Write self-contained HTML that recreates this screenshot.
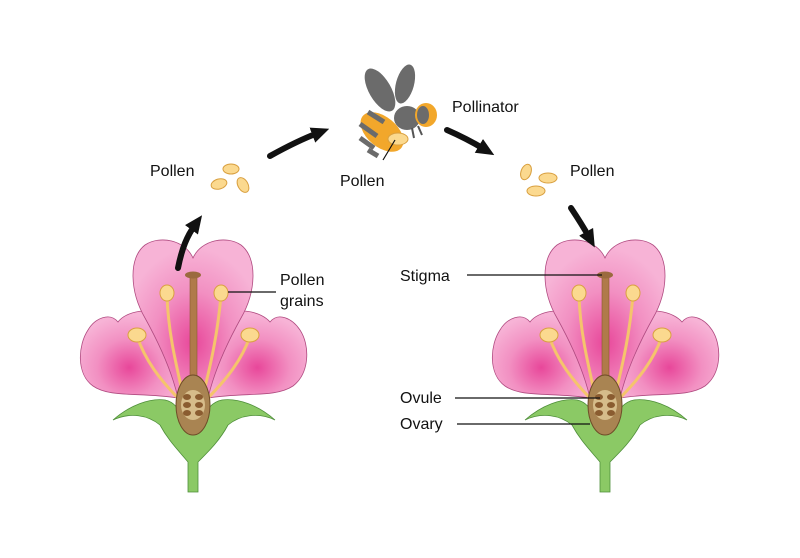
<!DOCTYPE html>
<html><head><meta charset="utf-8"><style>
html,body{margin:0;padding:0;background:#fff;}
svg{display:block;font-family:"Liberation Sans",sans-serif;}
</style></head><body>
<svg width="800" height="558" viewBox="0 0 800 558" xmlns="http://www.w3.org/2000/svg">
<defs>
<radialGradient id="pk" cx="0.5" cy="0.65" r="0.6">
<stop offset="0" stop-color="#e8479a"/><stop offset="0.55" stop-color="#f290c2"/><stop offset="1" stop-color="#f7b3d6"/>
</radialGradient>
<marker id="ah" markerWidth="18" markerHeight="18" refX="6" refY="9" orient="auto" markerUnits="userSpaceOnUse">
<path d="M0,1 L18,9 L0,17 Z" fill="#111"/></marker>
<g id="flower">
<path d="M178,398 C140,392 110,398 93,386 C76,374 78,345 88,330 C95,318 110,312 118,322 C125,312 150,305 170,318 Z" fill="url(#pk)" stroke="#b04a80" stroke-width="0.8"/>
<path d="M208,398 C245,392 275,398 293,386 C310,373 310,345 300,330 C292,318 278,312 270,322 C262,312 237,305 215,318 Z" fill="url(#pk)" stroke="#b04a80" stroke-width="0.8"/>
<path d="M193,258 C185,240 160,235 145,245 C128,258 130,292 145,318 C160,345 172,372 178,398 L208,398 C214,372 226,345 241,318 C256,292 258,258 241,245 C226,235 201,240 193,258 Z" fill="url(#pk)" stroke="#b04a80" stroke-width="0.8"/>
<path d="M188,492 L188,462 C178,450 168,440 160,425 C148,415 130,412 113,420 C130,405 150,398 165,400 C175,402 180,410 183,420 C186,432 200,432 203,420 C206,410 212,402 222,400 C238,398 258,405 275,420 C258,412 240,415 228,425 C220,440 210,450 198,462 L198,492 Z" fill="#8bc965" stroke="#4f8f3a" stroke-width="0.8"/>
<g stroke="#f5c46c" stroke-width="3" fill="none" stroke-linecap="round">
<path d="M183,395 C175,360 168,330 167,295"/>
<path d="M203,395 C212,360 218,330 221,295"/>
<path d="M180,400 C160,380 145,360 137,336"/>
<path d="M206,400 C226,380 242,360 250,336"/>
</g>
<g fill="#fbd98f" stroke="#d9a040" stroke-width="1">
<ellipse cx="167" cy="293" rx="7" ry="8"/><ellipse cx="221" cy="293" rx="7" ry="8"/>
<ellipse cx="137" cy="335" rx="9" ry="7"/><ellipse cx="250" cy="335" rx="9" ry="7"/>
</g>
<rect x="190" y="275" width="7" height="110" fill="#b07a4a" stroke="#8a5a30" stroke-width="0.6"/>
<ellipse cx="193" cy="275" rx="8" ry="3.5" fill="#9b6a3e"/>
<ellipse cx="193" cy="405" rx="17" ry="30" fill="#a98452" stroke="#6e4c28" stroke-width="1"/>
<ellipse cx="193" cy="405" rx="12" ry="15" fill="#d6bc8a"/>
<g fill="#8a5c30"><ellipse cx="187" cy="397" rx="4" ry="3"/><ellipse cx="199" cy="397" rx="4" ry="3"/><ellipse cx="187" cy="405" rx="4" ry="3"/><ellipse cx="199" cy="405" rx="4" ry="3"/><ellipse cx="187" cy="413" rx="4" ry="3"/><ellipse cx="199" cy="413" rx="4" ry="3"/></g>
</g>
</defs>
<use href="#flower"/>
<use href="#flower" transform="translate(412,0)"/>
<g stroke="#111" stroke-width="6" fill="none" stroke-linecap="round">
<path d="M178,268 C182,248 187,236 195,225" marker-end="url(#ah)"/>
<path d="M270,156 C288,146 302,139 318,133" marker-end="url(#ah)"/>
<path d="M447,130 C463,137 474,143 484,149" marker-end="url(#ah)"/>
<path d="M571,208 C579,220 584,228 589,237" marker-end="url(#ah)"/>
</g>
<g fill="#fbd98f" stroke="#d9a040" stroke-width="1">
<ellipse cx="231" cy="169" rx="8" ry="5"/><ellipse cx="219" cy="184" rx="8" ry="5" transform="rotate(-15 219 184)"/><ellipse cx="243" cy="185" rx="5" ry="8" transform="rotate(-30 243 185)"/>
<ellipse cx="526" cy="172" rx="5" ry="8" transform="rotate(20 526 172)"/><ellipse cx="548" cy="178" rx="9" ry="5"/><ellipse cx="536" cy="191" rx="9" ry="5"/>
</g>
<g>
<ellipse cx="380" cy="90" rx="11" ry="24" fill="#6b6b6b" transform="rotate(-30 380 90)"/>
<ellipse cx="405" cy="84" rx="9" ry="20" fill="#6b6b6b" transform="rotate(15 405 84)"/>
<ellipse cx="382" cy="132" rx="25" ry="15" fill="#f2a72b" transform="rotate(40 382 132)"/>
<g stroke="#6b6b6b" stroke-width="5" fill="none"><path d="M368,112 L384,122"/><path d="M360,124 L377,136"/><path d="M360,138 L374,148"/><path d="M368,150 L378,156"/></g>
<ellipse cx="407" cy="118" rx="13" ry="12" fill="#6b6b6b"/>
<ellipse cx="426" cy="115" rx="11" ry="12" fill="#f2a72b"/>
<ellipse cx="423" cy="115" rx="6" ry="9" fill="#6b6b6b"/>
<path d="M412,128 l2,10 M418,126 l4,9" stroke="#555" stroke-width="2"/>
<ellipse cx="398" cy="139" rx="10" ry="6" fill="#fbd98f" stroke="#d9a040"/>
</g>
<g stroke="#111" stroke-width="1.2">
<line x1="228" y1="292" x2="276" y2="292"/>
<line x1="467" y1="275" x2="602" y2="275"/>
<line x1="455" y1="398" x2="600" y2="398"/>
<line x1="457" y1="424" x2="590" y2="424"/>
<line x1="395" y1="140" x2="383" y2="160"/>
</g>
<g font-size="16" fill="#111">
<text x="150" y="176">Pollen</text>
<text x="340" y="186">Pollen</text>
<text x="452" y="112">Pollinator</text>
<text x="570" y="176">Pollen</text>
<text x="280" y="285">Pollen</text>
<text x="280" y="306">grains</text>
<text x="400" y="281">Stigma</text>
<text x="400" y="403">Ovule</text>
<text x="400" y="429">Ovary</text>
</g>
</svg>
</body></html>
